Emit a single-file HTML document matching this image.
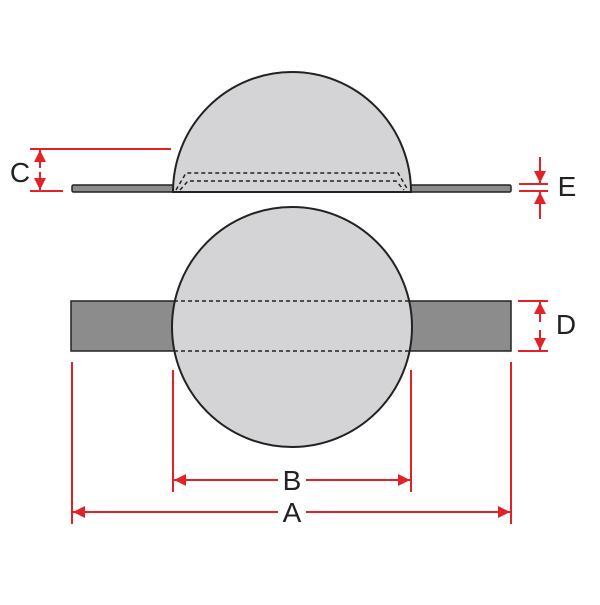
<!DOCTYPE html>
<html><head><style>body{margin:0;background:#fff}</style></head><body>
<svg width="600" height="600" viewBox="0 0 600 600" xmlns="http://www.w3.org/2000/svg">
<defs>
<marker id="ar" viewBox="0 0 12 12" refX="12" refY="6" markerWidth="12" markerHeight="12" markerUnits="userSpaceOnUse" orient="auto"><path d="M0,0 L12,6 L0,12 z" fill="#e32228"/></marker>
</defs>
<rect x="72" y="185" width="439" height="7" rx="1.5" fill="#8c8c8c" stroke="#222" stroke-width="1.5"/>
<path d="M173,192 A119,120 0 0 1 411,192 Z" fill="#d4d4d6" stroke="#222" stroke-width="2"/>
<path d="M176,190 L186,173 L398,173 L408,190" fill="none" stroke="#222" stroke-width="1.5" stroke-dasharray="4,3"/>
<path d="M180,190 L188,181 L396,181 L404,190" fill="none" stroke="#222" stroke-width="1.5" stroke-dasharray="4,3"/>
<rect x="71" y="301" width="440" height="50" fill="#8c8c8c" stroke="#222" stroke-width="1.5"/>
<circle cx="292" cy="327" r="120" fill="#d4d4d6" stroke="#222" stroke-width="2"/>
<line x1="174" y1="301" x2="410" y2="301" stroke="#222" stroke-width="1.5" stroke-dasharray="4,3"/>
<line x1="174" y1="351" x2="410" y2="351" stroke="#222" stroke-width="1.5" stroke-dasharray="4,3"/>
<g stroke="#e32228" stroke-width="2" fill="none">
<line x1="30" y1="149" x2="171" y2="149"/>
<line x1="30" y1="191" x2="63" y2="191"/>
<line x1="40" y1="168" x2="40" y2="150" marker-end="url(#ar)"/>
<line x1="40" y1="172" x2="40" y2="190" marker-end="url(#ar)"/>
<line x1="519" y1="184" x2="548" y2="184"/>
<line x1="519" y1="191" x2="548" y2="191"/>
<line x1="540" y1="157" x2="540" y2="183" marker-end="url(#ar)"/>
<line x1="540" y1="219" x2="540" y2="192" marker-end="url(#ar)"/>
<line x1="518" y1="301" x2="548" y2="301"/>
<line x1="518" y1="351" x2="548" y2="351"/>
<line x1="540" y1="322" x2="540" y2="302" marker-end="url(#ar)"/>
<line x1="540" y1="330" x2="540" y2="350" marker-end="url(#ar)"/>
<line x1="72" y1="362" x2="72" y2="524"/>
<line x1="511" y1="362" x2="511" y2="524"/>
<line x1="173" y1="370" x2="173" y2="492"/>
<line x1="411" y1="370" x2="411" y2="492"/>
<line x1="278" y1="480" x2="174" y2="480" marker-end="url(#ar)"/>
<line x1="306" y1="480" x2="410" y2="480" marker-end="url(#ar)"/>
<line x1="278" y1="512" x2="73" y2="512" marker-end="url(#ar)"/>
<line x1="306" y1="512" x2="510" y2="512" marker-end="url(#ar)"/>
</g>
<g font-family="Liberation Sans, sans-serif" font-size="28" fill="#222" text-anchor="middle">
<text x="20" y="182">C</text>
<text x="567" y="196">E</text>
<text x="566" y="334">D</text>
<text x="292" y="490">B</text>
<text x="292" y="522">A</text>
</g>
</svg>
</body></html>
